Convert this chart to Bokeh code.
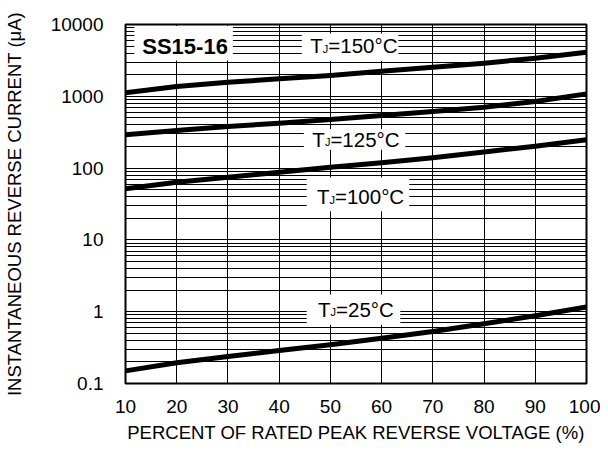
from bokeh.plotting import figure
from bokeh.models import Range1d, FixedTicker
from bokeh.core.properties import value
from bokeh.embed import file_html
from bokeh.resources import INLINE

# ---- data ----
voltage_pct = [10, 20, 30, 40, 50, 60, 70, 80, 90, 100]
i_150 = [1120, 1370, 1570, 1750, 1950, 2240, 2540, 2890, 3400, 4100]
i_125 = [291, 334, 380, 422, 475, 540, 614, 705, 848, 1080]
i_100 = [51.5, 63.7, 74.7, 87.6, 103, 119, 139, 167, 202, 248]
i_25 = [0.150, 0.194, 0.238, 0.288, 0.346, 0.428, 0.53, 0.678, 0.88, 1.16]

temps = ["150", "125", "100", "25"]
part_name = "SS15-16"

xtick_vals = [10, 20, 30, 40, 50, 60, 70, 80, 90, 100]
xtick_labels = ["10", "20", "30", "40", "50", "60", "70", "80", "90", "100"]
ytick_vals = [0.1, 1, 10, 100, 1000, 10000]
ytick_labels = ["0.1", "1", "10", "100", "1000", "10000"]

x_title = "PERCENT OF RATED PEAK REVERSE VOLTAGE (%)"
y_title = "INSTANTANEOUS REVERSE CURRENT (\u03bcA)"

FONT = "Liberation Sans"

p = figure(width=600, height=449, x_range=Range1d(10, 100),
           y_range=Range1d(0.1, 10000), y_axis_type="log",
           output_backend="svg", toolbar_location=None,
           min_border_left=124, min_border_right=14,
           min_border_top=24, min_border_bottom=66)
p.background_fill_color = "white"
p.border_fill_color = "white"
p.outline_line_color = "black"
p.outline_line_width = 2

# axes
minor_y = [m * 10.0 ** k for k in range(-1, 4) for m in range(2, 10)]
p.yaxis.ticker = FixedTicker(ticks=ytick_vals, minor_ticks=minor_y)
p.xaxis.ticker = FixedTicker(ticks=xtick_vals)
p.yaxis.major_label_overrides = dict(zip(ytick_vals, ytick_labels))
p.xaxis.major_label_overrides = dict(zip(xtick_vals, xtick_labels))
for ax in (p.xaxis, p.yaxis):
    ax.axis_line_color = None
    ax.major_tick_line_color = None
    ax.minor_tick_line_color = None
    ax.major_tick_out = 0
    ax.major_tick_in = 0
    ax.minor_tick_out = 0
    ax.minor_tick_in = 0
    ax.major_label_text_font = FONT
    ax.major_label_text_font_size = "19px"
    ax.major_label_text_color = "black"
    ax.axis_label_text_font = FONT
    ax.axis_label_text_font_size = "18.5px"
    ax.axis_label_text_font_style = "normal"
    ax.axis_label_text_color = "black"
p.xaxis.axis_label = x_title
p.yaxis.axis_label = y_title
p.xaxis.major_label_standoff = 16
p.yaxis.major_label_standoff = 22
p.xaxis.axis_label_standoff = 6
p.yaxis.axis_label_standoff = 23

# grid
p.xgrid.grid_line_color = "black"
p.xgrid.grid_line_width = 1
p.ygrid.grid_line_color = "black"
p.ygrid.grid_line_width = 1
p.ygrid.minor_grid_line_color = "black"
p.ygrid.minor_grid_line_width = 1

# white label boxes (annotation layout, data units)
box_l = [11.73, 44.42, 44.81, 45.38, 45.38]
box_r = [30.96, 63.27, 64.62, 65.38, 63.65]
box_t = [9500, 7500, 350, 74, 1.74]
box_b = [3150, 3100, 180, 25, 0.66]
p.quad(left=box_l, right=box_r, top=box_t, bottom=box_b,
       fill_color="white", line_color=None)

# curves
for series in (i_150, i_125, i_100, i_25):
    p.line(voltage_pct, series, line_color="black", line_width=5,
           line_join="round")

# part name label
p.text(x=[21.63], y=[5150], text=[part_name], text_font=value(FONT),
       text_font_size="22px", text_font_style="bold", text_color="black",
       text_align="center", text_baseline="alphabetic", y_offset=1)

# temperature labels: T + subscript J + =xxx°C
lab_x = [54.2, 54.6, 55.5, 54.6]
lab_y = [5100, 256, 40.6, 1.10]
FS, FJ = 20.5, 11.0
W = {'T': 611, 'J': 500, '=': 584, '0': 556, '1': 556, '2': 556, '5': 556,
     '\u00b0': 400, 'C': 722}
for t, xc, yc in zip(temps, lab_x, lab_y):
    rest = "=" + t + "\u00b0C"
    wT = W['T'] * FS / 1000
    wJ = W['J'] * FJ / 1000
    wR = sum(W[c] for c in rest) * FS / 1000
    x0 = -(wT + wJ + wR) / 2 + 2
    common = dict(text_font=value(FONT), text_color="black",
                  text_align="left", text_baseline="alphabetic")
    p.text(x=[xc], y=[yc], text=["T"], text_font_size=f"{FS}px",
           x_offset=x0, y_offset=0.5, **common)
    p.text(x=[xc], y=[yc], text=["J"], text_font_size=f"{FJ}px",
           x_offset=x0 + wT, y_offset=3.7, **common)
    p.text(x=[xc], y=[yc], text=[rest], text_font_size=f"{FS}px",
           x_offset=x0 + wT + wJ, y_offset=0.5, **common)

open("out.html", "w").write(file_html(p, INLINE))
